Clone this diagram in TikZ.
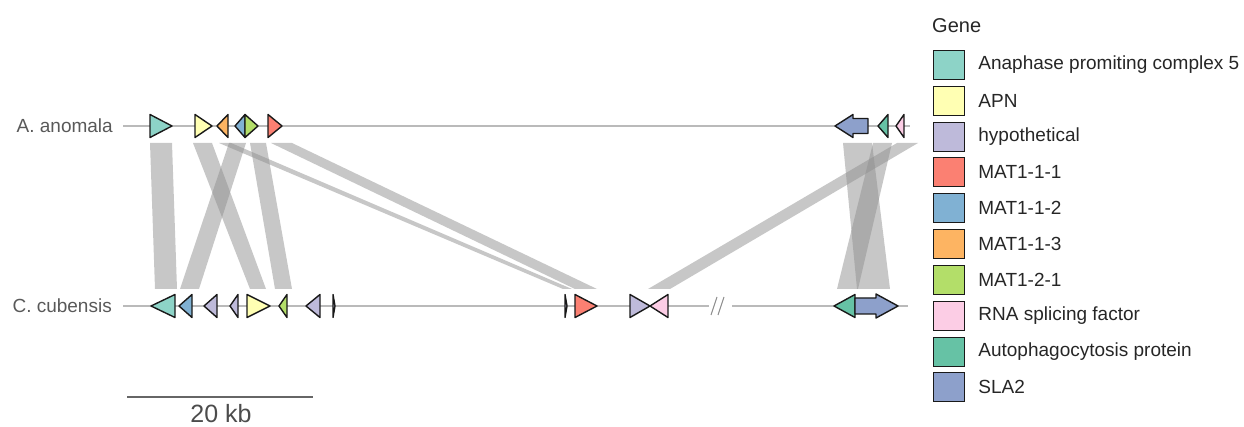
\documentclass[tikz,border=0pt]{standalone}
\usepackage{fontspec}
\setmainfont{Liberation Sans}
\usetikzlibrary{positioning}

\definecolor{apc}{HTML}{8DD3C7}
\definecolor{apn}{HTML}{FFFFB3}
\definecolor{hyp}{HTML}{BEBADA}
\definecolor{matA}{HTML}{FB8072}
\definecolor{matB}{HTML}{80B1D3}
\definecolor{matC}{HTML}{FDB462}
\definecolor{matD}{HTML}{B3DE69}
\definecolor{rsf}{HTML}{FCCDE5}
\definecolor{atg}{HTML}{66C2A5}
\definecolor{sla}{HTML}{8DA0CB}

% gene triangles: start, end, track y, colour
\newcommand{\genefwd}[4]{\draw[gene=#4] (#1,#3-11.5) -- (#2,#3) -- (#1,#3+11.5) -- cycle;}
\newcommand{\generev}[4]{\draw[gene=#4] (#2,#3-11.5) -- (#1,#3) -- (#2,#3+11.5) -- cycle;}
% homology band: top start, top end, bottom start, bottom end
\newcommand{\homband}[4]{\fill[link] (#1,143) -- (#2,143) -- (#4,289) -- (#3,289) -- cycle;}

\begin{document}
\begin{tikzpicture}[x=1pt, y=-1pt,
  track/.style={draw=black!27, line width=2pt},
  gene/.style={draw=black!90, line width=1.4pt, line join=round, fill=#1},
  link/.style={fill=black!44, fill opacity=0.5},
  species/.style={font=\fontsize{19}{22}\selectfont, text=black!65, inner sep=0pt},
  key/.style={draw=black!90, line width=1.4pt, minimum width=31pt, minimum height=29pt,
              inner sep=0pt, fill=#1},
  keytext/.style={font=\fontsize{19}{22}\selectfont, text=black!85, inner sep=0pt}
]
  \useasboundingbox (0,0) rectangle (1244,427);

  %-- Bandes d'homologie
  \homband{150}{172}{155}{177}
  \homband{193}{212}{250}{266}
  \homband{229}{246}{180}{199}
  \homband{250}{266}{275}{292}
  \homband{219}{231}{563}{572}
  \homband{271}{292}{575}{597}
  \homband{897}{918}{648}{670}
  \homband{843}{872}{857}{890}
  \homband{873}{892}{837}{858}

  %-- Pistes
  \node[species, anchor=east] (aano) at (113,126) {A. anomala};
  \node[species, anchor=east] (ccub) at (112,306) {C. cubensis};
  \draw[track] (123,126) -- (910,126);
  \draw[track] (123,306) -- (709,306);
  \draw[track] (732,306) -- (908,306);
  \draw[black!45, line width=1pt] (711,315) -- (717,297);
  \draw[black!45, line width=1pt] (718,315) -- (724,297);

  %-- A. anomala
  \genefwd{150}{172}{126}{apc}
  \genefwd{195}{212}{126}{apn}
  \generev{217}{228}{126}{matC}
  \generev{235}{245}{126}{matB}
  \genefwd{245}{258}{126}{matD}
  \genefwd{268}{282}{126}{matA}
  \draw[gene=sla] (835,126) -- (853,114.5) -- (853,118.5) -- (868,118.5)
        -- (868,133.5) -- (853,133.5) -- (853,137.5) -- cycle;
  \generev{878}{888}{126}{atg}
  \generev{896}{904}{126}{rsf}

  %-- C. cubensis
  \generev{151}{175}{306}{apc}
  \generev{179}{192}{306}{matB}
  \generev{204}{217}{306}{hyp}
  \generev{230}{238}{306}{hyp}
  \genefwd{247}{270}{306}{apn}
  \generev{279}{287}{306}{matD}
  \generev{306}{320}{306}{hyp}
  \genefwd{333}{335}{306}{hyp}
  \genefwd{565}{567}{306}{hyp}
  \genefwd{575}{597}{306}{matA}
  \genefwd{630}{650}{306}{hyp}
  \generev{650}{668}{306}{rsf}
  \generev{834}{855}{306}{atg}
  \draw[gene=sla] (898,306) -- (876,294) -- (876,298) -- (855,298)
        -- (855,314) -- (876,314) -- (876,318) -- cycle;

  %-- Echelle
  \draw[black!60, line width=1.6pt] (127,397) -- (313,397);
  \node[font=\fontsize{25}{28}\selectfont, text=black!70] (scl) at (221,414) {20 kb};

  %-- Légende
  \node[keytext, font=\fontsize{20}{24}\selectfont, anchor=west] (gene) at (932,26) {Gene};
  \node[key=apc]  (k1)  at (949,65)  {};
  \node[key=apn]  (k2)  at (949,101) {};
  \node[key=hyp]  (k3)  at (949,137) {};
  \node[key=matA] (k4)  at (949,172) {};
  \node[key=matB] (k5)  at (949,208) {};
  \node[key=matC] (k6)  at (949,244) {};
  \node[key=matD] (k7)  at (949,280) {};
  \node[key=rsf]  (k8)  at (949,316) {};
  \node[key=atg]  (k9)  at (949,352) {};
  \node[key=sla]  (k10) at (949,387) {};
  \node[keytext, right=13pt of k1]  {Anaphase promiting complex 5};
  \node[keytext, right=13pt of k2]  {APN};
  \node[keytext, right=13pt of k3]  {hypothetical};
  \node[keytext, right=13pt of k4]  {MAT1-1-1};
  \node[keytext, right=13pt of k5]  {MAT1-1-2};
  \node[keytext, right=13pt of k6]  {MAT1-1-3};
  \node[keytext, right=13pt of k7]  {MAT1-2-1};
  \node[keytext, right=13pt of k8]  {RNA splicing factor};
  \node[keytext, right=13pt of k9]  {Autophagocytosis protein};
  \node[keytext, right=13pt of k10] {SLA2};
\end{tikzpicture}
\end{document}
